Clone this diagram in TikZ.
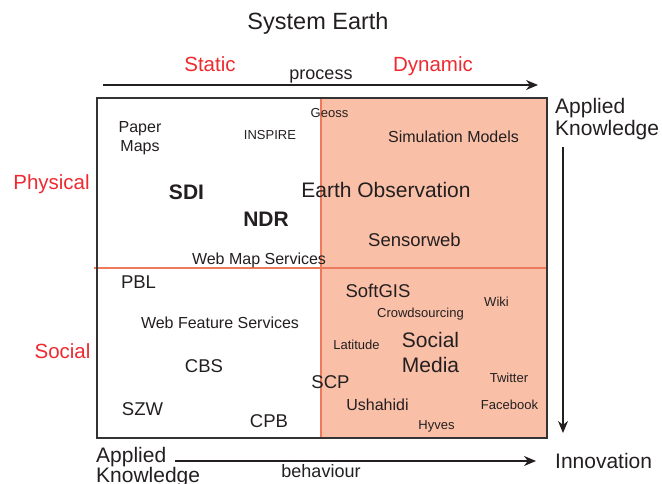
\documentclass[tikz,border=0pt]{standalone}
\usepackage{fontspec}
\setmainfont{Liberation Sans}
\usetikzlibrary{arrows.meta}
\definecolor{salmon}{HTML}{F9BFA7}
\definecolor{divline}{HTML}{EE7A5E}
\definecolor{frame}{HTML}{333333}
\definecolor{lblred}{HTML}{EE2A30}
\definecolor{txt}{HTML}{231F20}
\tikzset{
  lbl/.style={inner sep=0pt, anchor=base, text=txt},
  tinyt/.style={lbl, font=\fontsize{13}{15}\selectfont},
  medt/.style={lbl, font=\fontsize{16}{19}\selectfont},
  bigt/.style={lbl, font=\fontsize{18.5}{21}\selectfont},
  hugt/.style={lbl, font=\fontsize{21}{25}\selectfont},
  boldt/.style={lbl, font=\fontsize{21}{25}\selectfont\bfseries},
  axist/.style={lbl, font=\fontsize{21}{22}\selectfont},
  redt/.style={lbl, text=lblred, font=\fontsize{20.5}{24}\selectfont},
  axisarrow/.style={draw=txt, line width=1.1pt, -{Stealth[length=12pt,width=10pt]}},
}
\begin{document}
\begin{tikzpicture}[x=1pt,y=-1pt]
\useasboundingbox (0,0) rectangle (662,484);
% quadrants
\fill[salmon] (321,98) rectangle (547,438);
\draw[divline, line width=1.3pt] (321,98) -- (321,438);
\draw[divline, line width=1.3pt] (94,268) -- (547,268);
\draw[frame, line width=1.5pt] (97,98) rectangle (547,438);

% titles
\node[lbl, font=\fontsize{23.5}{26}\selectfont] (title) at (318,29.5) {System Earth};
\node[redt] (static) at (210,72) {Static};
\node[redt] (dynamic) at (433,72) {Dynamic};
\node[lbl, font=\fontsize{18}{20}\selectfont] (process) at (321,80) {process};
\node[redt] (physical) at (51.5,190) {Physical};
\node[redt] (social) at (62.5,358) {Social};
\node[axist, anchor=base west] (ak1) at (555,114) {Applied};
\node[axist, anchor=base west] (ak1b) at (555,136) {Knowledge};
\node[axist, anchor=base west] (ak2) at (96,462) {Applied};
\node[axist, anchor=base west] (ak2b) at (96,482.5) {Knowledge};
\node[axist, anchor=base west] (innov) at (555,468) {Innovation};
\node[lbl, font=\fontsize{18}{20}\selectfont] (behav) at (321,477) {behaviour};

% axes
\coordinate (pa) at (103,85);
\coordinate (pb) at (538,85);
\draw[axisarrow] (pa) -- (pb);
\coordinate (va) at (563,147);
\coordinate (vb) at (563,433);
\draw[axisarrow] (va) -- (vb);
\coordinate (ba) at (175,461);
\coordinate (bb) at (536,461);
\draw[axisarrow] (ba) -- (bb);

% physical / static
\node[medt] (paper) at (140,133) {Paper};
\node[medt] (maps) at (140,152) {Maps};
\node[tinyt] (inspire) at (270,140) {INSPIRE};
\node[tinyt] (geoss) at (329.5,118) {Geoss};
\node[boldt] (sdi) at (186.5,200) {SDI};
\node[boldt] (ndr) at (266,227) {NDR};
\node[medt] (wms) at (259,265) {Web Map Services};
% physical / dynamic
\node[medt] (sim) at (453.5,143) {Simulation Models};
\node[hugt] (eo) at (386,197) {Earth Observation};
\node[bigt] (sensor) at (414.5,247) {Sensorweb};
% social / static
\node[bigt] (pbl) at (138.5,288) {PBL};
\node[medt] (wfs) at (220,328) {Web Feature Services};
\node[bigt] (cbs) at (204,372) {CBS};
\node[bigt] (scp) at (330.5,388) {SCP};
\node[bigt] (szw) at (142.5,415) {SZW};
\node[bigt] (cpb) at (269,427) {CPB};
% social / dynamic
\node[bigt] (softgis) at (378,297) {SoftGIS};
\node[tinyt] (wiki) at (496.5,306) {Wiki};
\node[tinyt] (crowd) at (420.5,317) {Crowdsourcing};
\node[tinyt] (lat) at (356.5,349) {Latitude};
\node[hugt] (socm1) at (430.5,347) {Social};
\node[hugt] (socm2) at (430.5,372) {Media};
\node[tinyt] (twit) at (509,382) {Twitter};
\node[medt] (usha) at (377.5,410) {Ushahidi};
\node[tinyt] (fb) at (509.5,409) {Facebook};
\node[tinyt] (hyves) at (436.5,429) {Hyves};
\end{tikzpicture}
\end{document}
